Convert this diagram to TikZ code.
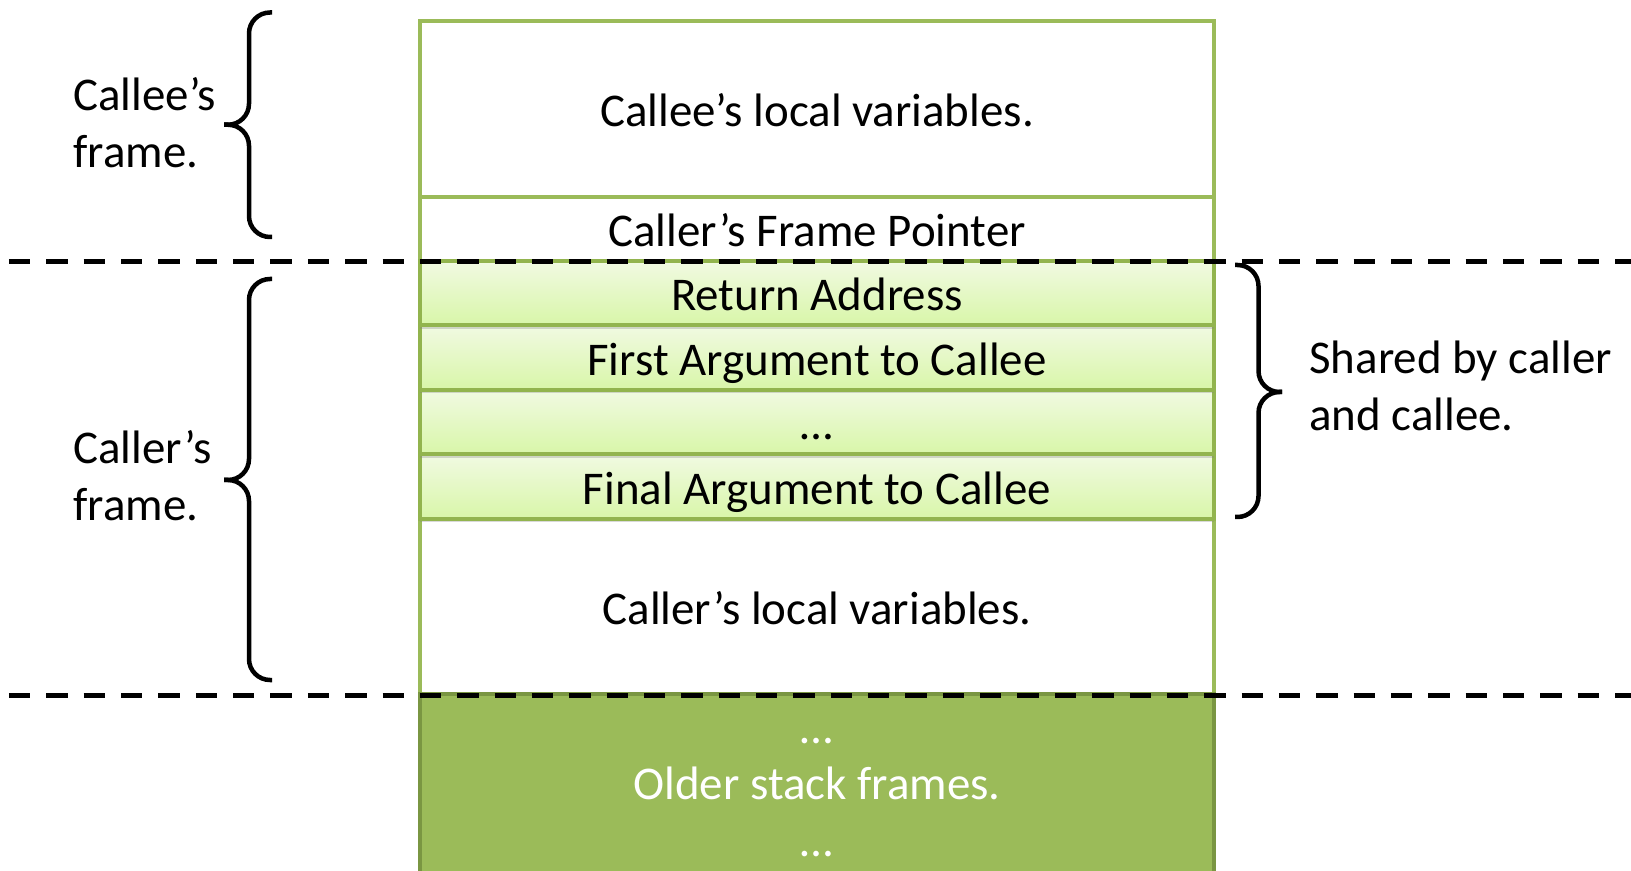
\documentclass[tikz,border=0pt]{standalone}
\usepackage{fontspec}
\setmainfont{Carlito}
\usetikzlibrary{positioning,shadows}
\definecolor{stackgreen}{RGB}{155,187,89}
\definecolor{stackdark}{RGB}{122,150,66}
\definecolor{argtop}{RGB}{241,250,226}
\definecolor{argbot}{RGB}{216,246,168}
\definecolor{argline}{RGB}{146,180,78}

\begin{document}
\begin{tikzpicture}[
every node/.style={font=\fontsize{26.7}{32.4}\selectfont,inner sep=0pt},
cell/.style={draw=stackgreen,line width=0.08cm,minimum width=15.88cm,text height=0.71cm,text depth=0cm},
argcell/.style={cell,draw=argline,top color=argtop,bottom color=argbot,minimum height=1.29cm,
  drop shadow={shadow xshift=0cm,shadow yshift=-0.07cm,opacity=0.3}},
bracket/.style={line width=0.09cm,rounded corners=0.42cm},
frameline/.style={line width=0.1cm,dash pattern=on 0.427cm off 0.32cm}]
\useasboundingbox (0,0) rectangle (32.62,17.4);
\node[cell,minimum height=3.52cm] (calleeLocal) at (16.34,15.22) {Callee’s local variables.};
\node[cell,minimum height=1.28cm] (framePtr) at (16.34,12.82) {Caller’s Frame Pointer};
\node[cell,minimum height=3.5cm] (callerLocal) at (16.34,5.27) {Caller’s local variables.};
\node[draw=stackdark,line width=0.08cm,fill=stackgreen,text=white,align=center,
  minimum width=15.88cm,minimum height=4.14cm] (older) at (16.34,1.45) {…\\Older stack frames.\\…};
\node[argcell] (finalArg) at (16.34,7.665) {Final Argument to Callee};
\node[argcell] (dotsArg) at (16.34,8.955) {…};
\node[argcell] (firstArg) at (16.34,10.245) {First Argument to Callee};
\node[argcell] (retAddr) at (16.34,11.535) {Return Address};
\coordinate (topL) at (0.18,12.16);
\coordinate (topR) at (32.62,12.16);
\coordinate (botL) at (0.18,3.49);
\coordinate (botR) at (32.62,3.49);
\draw[frameline] (topL) -- (topR);
\draw[frameline] (botL) -- (botR);
\draw[bracket] (5.44,17.15) -- (4.98,17.15) -- (4.98,14.905) -- (4.48,14.905);
\draw[bracket] (5.44,12.66) -- (4.98,12.66) -- (4.98,14.905) -- (4.48,14.905);
\draw[bracket] (5.44,11.82) -- (4.98,11.82) -- (4.98,7.8) -- (4.48,7.8);
\draw[bracket] (5.44,3.8) -- (4.98,3.8) -- (4.98,7.8) -- (4.48,7.8);
\draw[bracket] (24.7,12.1) -- (25.17,12.1) -- (25.17,9.56) -- (25.64,9.56);
\draw[bracket] (24.7,7.06) -- (25.17,7.06) -- (25.17,9.56) -- (25.64,9.56);
\node[align=left,anchor=west] (calleeLbl) at (1.46,14.94) {Callee’s\\frame.};
\node[align=left,anchor=west] (callerLbl) at (1.46,7.88) {Caller’s\\frame.};
\node[align=left,anchor=west] (sharedLbl) at (26.18,9.68) {Shared by caller\\and callee.};
\end{tikzpicture}
\end{document}
